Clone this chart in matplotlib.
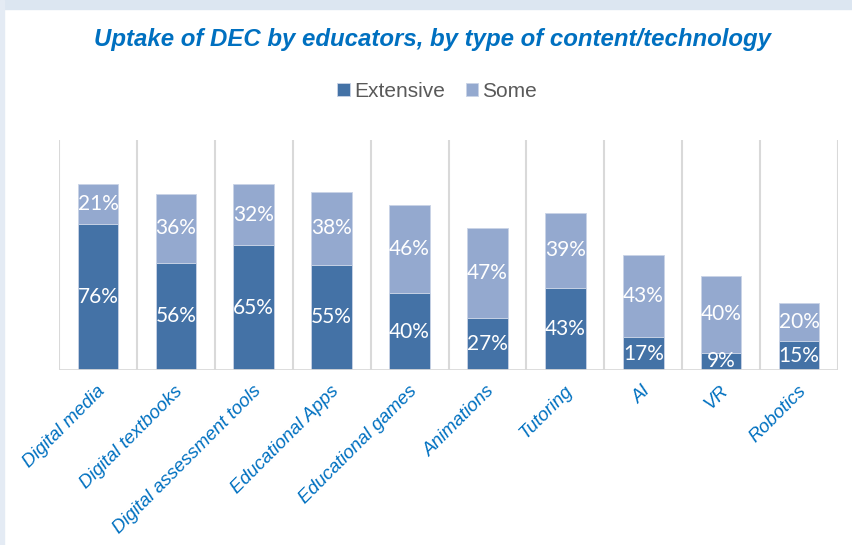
import matplotlib.pyplot as plt
from matplotlib.patches import Rectangle
import matplotlib.transforms as mtransforms

categories = ['Digital media', 'Digital textbooks', 'Digital assessment tools',
              'Educational Apps', 'Educational games', 'Animations', 'Tutoring',
              'AI', 'VR', 'Robotics']
extensive = [76, 56, 65, 55, 40, 27, 43, 17, 9, 15]
some = [21, 36, 32, 38, 46, 47, 39, 43, 40, 20]

c_ext = '#4472A6'
c_some = '#94A9CF'
blue_txt = '#0070C0'

fig = plt.figure(figsize=(8.52, 5.45), dpi=100)
fig.patches.append(Rectangle((0, 1 - 9/545), 1, 9/545, transform=fig.transFigure,
                             color='#DCE6F1', zorder=0))
fig.patches.append(Rectangle((0, 0), 4/852, 1, transform=fig.transFigure,
                             color='#E4EBF4', zorder=0))

ax = fig.add_axes([59/852, 1 - 370/545, (838 - 59)/852, 230/545])
x = list(range(len(categories)))
b1 = ax.bar(x, extensive, width=0.52, color=c_ext, edgecolor='#C9D3E6', linewidth=0.6,
            label='Extensive', zorder=3)
b2 = ax.bar(x, some, width=0.52, bottom=extensive, color=c_some, edgecolor='#C9D3E6',
            linewidth=0.6, label='Some', zorder=3)

for i in x:
    ax.text(i, extensive[i] / 2, f'{extensive[i]}%', ha='center', va='center',
            color='white', fontsize=15, family='Lato', zorder=4)
    ax.text(i, extensive[i] + some[i] / 2, f'{some[i]}%', ha='center', va='center',
            color='white', fontsize=15, family='Lato', zorder=4)

ax.set_xlim(-0.5, 9.5)
ax.set_ylim(0, 120)
for k in range(-1, 10):
    ax.axvline(k + 0.5, color='#D9D9D9', linewidth=1.5, zorder=1)
ax.axhline(0, color='#D9D9D9', linewidth=2, zorder=5)
for s in ax.spines.values():
    s.set_visible(False)
ax.set_yticks([])
ax.set_xticks(x)
ax.set_xticklabels(categories, rotation=45, ha='right', va='top', rotation_mode='anchor',
                   fontsize=13.5, style='italic', color=blue_txt, family='Liberation Sans')
ax.tick_params(axis='x', length=0, pad=9)
off = mtransforms.ScaledTranslation(-1/72, 0, fig.dpi_scale_trans)
for lab in ax.get_xticklabels():
    lab.set_transform(lab.get_transform() + off)

fig.text(0.508, 1 - 39/545, 'Uptake of DEC by educators, by type of content/technology',
         ha='center', va='center', fontsize=17.3, fontweight='bold', style='italic',
         color=blue_txt, family='Liberation Sans')
leg = fig.legend(handles=[b1, b2], loc='center', bbox_to_anchor=(0.513, 1 - 91/545),
                 ncol=2, frameon=False, handlelength=0.6, handleheight=0.6,
                 handletextpad=0.2, columnspacing=1.0,
                 prop={'family': 'Liberation Sans', 'size': 15})
for t in leg.get_texts():
    t.set_color('#595959')

fig.savefig('out.png', dpi=100, facecolor='white')
